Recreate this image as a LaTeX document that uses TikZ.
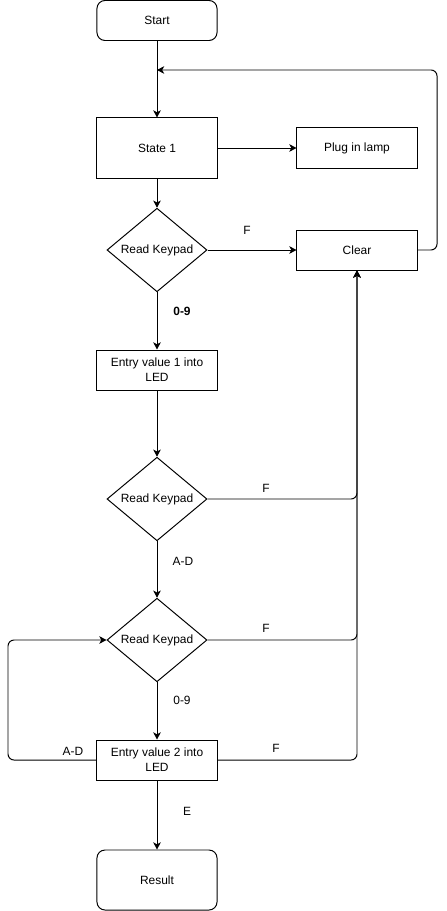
\documentclass[tikz,border=0pt]{standalone}
\usepackage{fontspec}
\setmainfont{Liberation Sans}
\usetikzlibrary{shapes.geometric,arrows.meta}

\tikzset{
	box/.style={draw, line width=0.7pt, minimum width=3cm, minimum height=1cm, align=center, inner sep=2pt, font=\fontsize{8.5}{10.5}\selectfont},
	endbox/.style={box, rounded corners=0.2cm},
	test/.style={draw, diamond, line width=0.7pt, minimum width=2.5cm, minimum height=2cm, inner sep=0pt, font=\fontsize{8.5}{10.5}\selectfont},
	lbl/.style={font=\fontsize{8.5}{10.5}\selectfont},
	link/.style={line width=0.7pt, -{Stealth[length=1.8mm, width=1.9mm, inset=0.5mm]}, rounded corners=0.15cm},
}

\begin{document}
\begin{tikzpicture}[x=0.025cm, y=-0.025cm]
		\useasboundingbox (0,0) rectangle (446,911);
		% boxes
		\node[endbox] (start) at (157,20.5) {Start};
		\node[box, minimum height=1.5cm] (state1) at (157,148) {State 1};
		\node[box] (lamp) at (357,148) {Plug in lamp};
		\node[test] (read1) at (157,250) {Read Keypad};
		\node[box] (clear) at (357,250) {Clear};
		\node[box] (entry1) at (157,370) {Entry value 1 into\\LED};
		\node[test] (read2) at (157,499) {Read Keypad};
		\node[test] (read3) at (157,640) {Read Keypad};
		\node[box] (entry2) at (157,760) {Entry value 2 into\\LED};
		\node[endbox, minimum height=1.5cm] (result) at (157,880) {Result};
		\coordinate (join) at (157,70);
		\coordinate (back) at (437,70);
		\coordinate (left) at (8,760);
		% labels
		\node[lbl] (f1) at (247,230) {F};
		\node[lbl, font=\fontsize{8.5}{10.5}\selectfont\bfseries] (d1) at (182,311) {0-9};
		\node[lbl] (f2) at (266,488) {F};
		\node[lbl] (a1) at (183,561) {A-D};
		\node[lbl] (f3) at (266,628) {F};
		\node[lbl] (d2) at (182,700) {0-9};
		\node[lbl] (a2) at (73,751) {A-D};
		\node[lbl] (f4) at (276,748) {F};
		\node[lbl] (e1) at (187,811) {E};
		% connectors
		\draw[link] (start) -- (state1);
		\draw[link] (clear.east) -| (back) -- (join);
		\draw[link] (state1) -- (lamp);
		\draw[link] (state1) -- (read1);
		\draw[link] (read1) -- (clear);
		\draw[link] (read1) -- (entry1);
		\draw[link] (entry1) -- (read2);
		\draw[link] (read2.east) -| (clear.south);
		\draw[link] (read2) -- (read3);
		\draw[link] (read3.east) -| (clear.south);
		\draw[link] (read3) -- (entry2);
		\draw[link] (entry2.west) -- (left) |- (read3.west);
		\draw[link] (entry2.east) -| (clear.south);
		\draw[link] (entry2) -- (result);
	\end{tikzpicture}
\end{document}
